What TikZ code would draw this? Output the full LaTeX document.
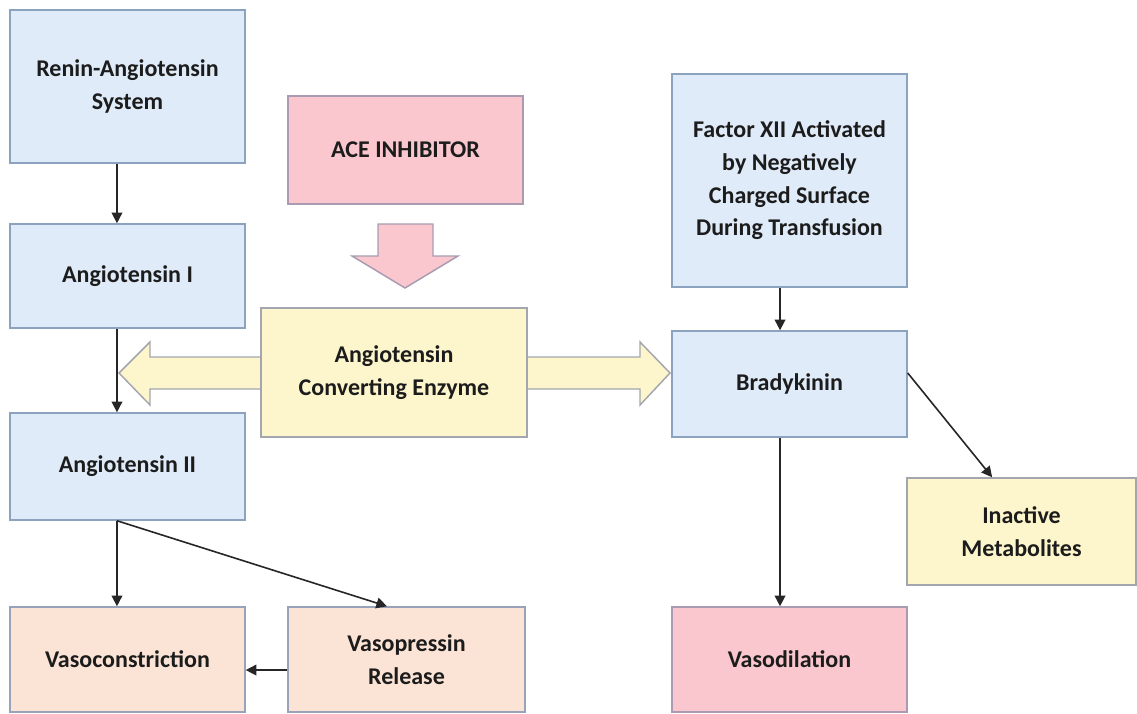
\documentclass[tikz,border=0pt]{standalone}
\usepackage{fontspec}
\setmainfont{Carlito}
\usetikzlibrary{arrows.meta}
\definecolor{bfill}{HTML}{DFEBF8}
\definecolor{bdraw}{HTML}{8CA3BF}
\definecolor{pfill}{HTML}{F9C7CD}
\definecolor{pdraw}{HTML}{A99CB2}
\definecolor{yfill}{HTML}{FDF6CD}
\definecolor{ydraw}{HTML}{A3A6AE}
\definecolor{ofill}{HTML}{FBE4D6}
\definecolor{odraw}{HTML}{98A2B8}
\definecolor{txt}{HTML}{1C1C1C}
\definecolor{ln}{HTML}{262626}
\tikzset{
  box/.style={rectangle, draw, line width=1.1pt, align=center, text=txt,
    font=\fontsize{18}{24.5}\selectfont\bfseries, inner sep=0pt},
  bluebox/.style={box, fill=bfill, draw=bdraw},
  pinkbox/.style={box, fill=pfill, draw=pdraw},
  yelbox/.style={box, fill=yfill, draw=ydraw},
  orbox/.style={box, fill=ofill, draw=odraw},
  arr/.style={draw=ln, line width=1.2pt, -{Triangle[length=8pt,width=8pt]}},
  block/.style={line width=1.1pt, line join=miter}
}
\begin{document}
\begin{tikzpicture}[x=0.75pt,y=-0.75pt]
\useasboundingbox (0,0) rectangle (1137,713);
% block arrows (behind)
\draw[block, fill=yfill, draw=ydraw]
  (119,373) -- (150,342) -- (150,357) -- (640,357) -- (640,342) -- (670,373)
  -- (640,405) -- (640,389) -- (150,389) -- (150,405) -- cycle;
\draw[block, fill=pfill, draw=pdraw]
  (378,224) -- (433,224) -- (433,256) -- (458,256) -- (405,288) -- (352,256) -- (378,256) -- cycle;
% nodes
\node[bluebox, minimum width=176.25pt, minimum height=114.75pt] (ras) at (127.5,86.5) {Renin-Angiotensin\\System};
\node[bluebox, minimum width=176.25pt, minimum height=78pt] (ang1) at (127.5,276) {Angiotensin I};
\node[bluebox, minimum width=176.25pt, minimum height=80.25pt] (ang2) at (127.5,466.5) {Angiotensin II};
\node[orbox, minimum width=176.25pt, minimum height=78.75pt] (vcon) at (127.5,659.5) {Vasoconstriction};
\node[orbox, minimum width=177.75pt, minimum height=78.75pt] (vpre) at (406.5,659.5) {Vasopressin\\Release};
\node[pinkbox, minimum width=176.25pt, minimum height=81pt] (acei) at (405.5,150) {ACE INHIBITOR};
\node[yelbox, minimum width=199.5pt, minimum height=96.75pt] (ace) at (394,372.5) {Angiotensin\\Converting Enzyme};
\node[bluebox, minimum width=176.25pt, minimum height=159.75pt] (f12) at (789.5,180.5) {Factor XII Activated\\by Negatively\\Charged Surface\\During Transfusion};
\node[bluebox, minimum width=176.25pt, minimum height=79.5pt] (brady) at (789.5,384) {Bradykinin};
\node[yelbox, minimum width=171.75pt, minimum height=80.25pt] (inact) at (1021.5,531.5) {Inactive\\Metabolites};
\node[pinkbox, minimum width=176.25pt, minimum height=78.75pt] (vdil) at (789.5,659.5) {Vasodilation};
% connectors
\draw[arr] ([xshift=-7.9pt]ras.south) -- ([xshift=-7.9pt]ang1.north);
\draw[arr] ([xshift=-7.9pt]ang1.south) -- ([xshift=-7.9pt]ang2.north);
\draw[arr] ([xshift=-7.9pt]ang2.south) -- ([xshift=-7.9pt]vcon.north);
\draw[arr] ([xshift=-7.9pt]ang2.south) -- ([xshift=-14.6pt]vpre.north);
\draw[arr] ([yshift=-7.9pt]vpre.west) -- ([yshift=-7.9pt]vcon.east);
\draw[arr] ([xshift=-7.1pt]f12.south) -- ([xshift=-7.1pt]brady.north);
\draw[arr] ([xshift=-7.1pt]brady.south) -- ([xshift=-7.1pt]vdil.north);
\draw[arr] ([yshift=8.25pt]brady.east) -- ([xshift=-22pt]inact.north);
\end{tikzpicture}
\end{document}
